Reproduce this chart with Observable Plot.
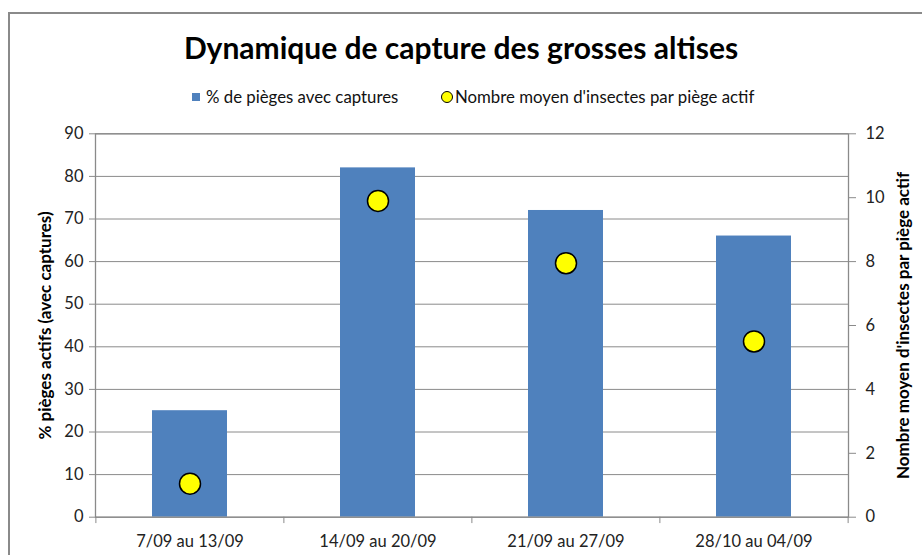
<!DOCTYPE html>
<html>
<head>
<meta charset="utf-8">
<script src="https://cdn.jsdelivr.net/npm/d3@7"></script>
<script src="https://cdn.jsdelivr.net/npm/@observablehq/plot@0.6"></script>
<style>
  html, body { margin: 0; padding: 0; background: #fff; }
  #wrap { position: relative; width: 922px; height: 555px; overflow: hidden; font-family: Lato, "Open Sans", sans-serif; color: #000; background: #fff; }
  #border { position: absolute; left: 8px; top: 12px; width: 940px; height: 600px; border: 2px solid #8a8a8a; box-sizing: border-box; }
  #title { position: absolute; left: 0; width: 922px; top: 27px; text-align: center; font-weight: bold; font-size: 30px; line-height: 40px; }
  #legend { position: absolute; left: 0; width: 922px; top: 87px; height: 20px; font-size: 16.8px; line-height: 20px; color: #111; }
  .li { position: absolute; top: 0; white-space: nowrap; }
  .sw { position: absolute; }
  #chart { position: absolute; left: 0; top: 110px; }
  #chart svg { background: transparent !important; }
</style>
</head>
<body>
<div id="wrap">
  <div id="border"></div>
  <div id="title">Dynamique de capture des grosses altises</div>
  <div id="legend">
    <span class="sw" style="left:192px;top:6px;width:8px;height:8px;background:#4F81BD"></span>
    <span class="li" style="left:206px">% de pièges avec captures</span>
    <span class="sw" style="left:441px;top:4px;width:12px;height:12px;border-radius:50%;background:#FFFF00;border:1px solid #000;box-sizing:border-box"></span>
    <span class="li" style="left:455px">Nombre moyen d'insectes par piège actif</span>
  </div>
  <div id="chart"></div>
</div>
<script>
// ---- data ----
const categories = ["7/09 au 13/09", "14/09 au 20/09", "21/09 au 27/09", "28/10 au 04/09"];
const pctTraps = [25, 82, 72, 66];               // % de pièges avec captures (left axis)
const meanInsects = [1.05, 9.9, 7.95, 5.5];      // Nombre moyen d'insectes par piège actif (right axis)
const leftTicks = [0, 10, 20, 30, 40, 50, 60, 70, 80, 90];
const rightTicks = [0, 2, 4, 6, 8, 10, 12];
const leftTitle = "% pièges actifs (avec captures)";
const rightTitle = "Nombre moyen d'insectes par piège actif";

const leftMax = 90, rightMax = 12;
const k = leftMax / rightMax; // right -> left scale factor

const rows = categories.map((c, i) => ({cat: c, pct: pctTraps[i], mean: meanInsects[i]}));

const W = 922, H = 445, mL = 95, mR = 74, mT = 23.3, mB = 38.3;
const step = (W - mL - mR) / categories.length;
const grid = "#8a8a8a";
const font = "Lato, 'Open Sans', sans-serif";

const chart = Plot.plot({
  width: W, height: H,
  marginLeft: mL, marginRight: mR, marginTop: mT, marginBottom: mB,
  style: {fontFamily: font, fontSize: "16.5px", color: "#222", background: "transparent"},
  x: {domain: categories, paddingInner: 0.6, paddingOuter: 0.3},
  y: {domain: [0, leftMax]},
  marks: [
    Plot.ruleY(leftTicks, {stroke: grid, strokeWidth: 1}),
    Plot.barY(rows, {x: "cat", y: "pct", fill: "#4F81BD"}),
    Plot.ruleX([0, 1, 2, 3], {x: i => categories[i], dx: -step / 2, y1: 0, y2: -1.5, stroke: grid}),
    Plot.ruleX([3], {x: i => categories[i], dx: step / 2, y1: 0, y2: -1.5, stroke: grid}),
    Plot.frame({stroke: grid, strokeWidth: 1.3}),
    Plot.axisY(leftTicks, {anchor: "left", tickSize: 6, tickPadding: 6, stroke: grid, label: null, fontSize: 16.5}),
    Plot.axisY(rightTicks.map(d => d * k), {anchor: "right", tickSize: 7, tickPadding: 10, stroke: grid, tickFormat: d => d / k, label: null, fontSize: 16.5}),
    Plot.axisX({tickSize: 0, tickPadding: 18, label: null, fontSize: 16.5}),
    Plot.dot(rows, {x: "cat", y: d => d.mean * k, r: 10.5, fill: "#FFFF00", stroke: "#000", strokeWidth: 1.5}),
    Plot.text([leftTitle], {frameAnchor: "left", textAnchor: "middle", dx: -50, rotate: -90, fontWeight: "bold", fontSize: 17, fill: "#000"}),
    Plot.text([rightTitle], {frameAnchor: "right", textAnchor: "middle", dx: 55, rotate: -90, fontWeight: "bold", fontSize: 17, fill: "#000"})
  ]
});
document.getElementById("chart").appendChild(chart);
</script>
</body>
</html>
